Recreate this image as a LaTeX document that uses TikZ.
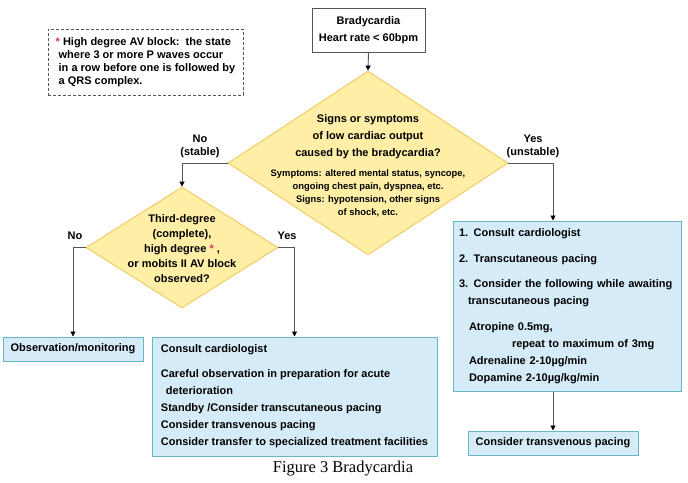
\documentclass[tikz,border=0pt]{standalone}
\usepackage{fontspec}
\setmainfont{Liberation Sans}
\newfontfamily\figfont{Liberation Serif}
\usetikzlibrary{shapes.geometric,arrows.meta}
\definecolor{qfill}{HTML}{FFEEA6}
\definecolor{qedge}{HTML}{F2C453}
\definecolor{afill}{HTML}{D5ECF8}
\definecolor{aedge}{HTML}{67B7C9}
\definecolor{star}{HTML}{D9306B}
\definecolor{wire}{HTML}{555555}
\begin{document}
\begin{tikzpicture}[x=1pt,y=-1pt,every node/.style={font=\fontsize{11}{17}\selectfont\bfseries},
  question/.style={diamond, draw=qedge, fill=qfill, line width=0.8pt, inner sep=0pt},
  action/.style={draw=aedge, fill=afill, line width=1pt, inner sep=0pt, align=left},
  flow/.style={draw=wire, line width=0.9pt, -{Triangle[length=5pt,width=5pt,color=black]}}]
\useasboundingbox (0,0) rectangle (688,482);
\node[draw=wire, dash pattern=on 3pt off 2pt, line width=0.8pt, minimum width=195pt, minimum height=66pt, align=left, font=\fontsize{11}{13}\selectfont\bfseries] (note) at (145.5,62) {\textcolor{star}{*} High degree AV block:\ \ the state\\\hspace*{3pt}where 3 or more P waves occur\\\hspace*{3pt}in a row before one is followed by\\\hspace*{3pt}a QRS complex.};
\node[draw=wire, fill=white, line width=0.8pt, minimum width=113pt, minimum height=44pt, align=center] (brady) at (368.5,30) {Bradycardia\\Heart rate < 60bpm};

\node[question, minimum width=280pt, minimum height=184pt] (signs) at (368,163) {};
\node[align=center] (signs-text) at (368,137) {Signs or symptoms\\of low cardiac output\\caused by the bradycardia?};
\node[align=center, font=\fontsize{9.4}{13}\selectfont\bfseries] (signs-note) at (368,193) {Symptoms: altered mental status, syncope,\\ongoing chest pain, dyspnea, etc.\\Signs: hypotension, other signs\\of shock, etc.};

\node[question, minimum width=192pt, minimum height=121pt] (third) at (182,247.5) {};
\node[align=center, font=\fontsize{11}{15}\selectfont\bfseries] (third-text) at (182,249) {Third-degree\\(complete),\\high degree \textcolor{star}{*} ,\\or mobits II AV block\\observed?};

\node[align=center, font=\fontsize{11}{13}\selectfont\bfseries] (stable) at (200,146) {No\\(stable)};
\node[align=center, font=\fontsize{11}{13}\selectfont\bfseries] (unstable-label) at (533,146) {Yes\\(unstable)};
\node (no) at (75,236) {No};
\node (yes) at (287,236) {Yes};

\node[action, minimum width=140pt, minimum height=24pt] (observe) at (73,349) {Observation/monitoring};
\node[action, minimum width=285pt, minimum height=119pt] (consult) at (294.5,396.5) {Consult cardiologist\\[8pt]Careful observation in preparation for acute\\\hspace*{5pt}deterioration\\Standby /Consider transcutaneous pacing\\Consider transvenous pacing\\Consider transfer to specialized treatment facilities};
\node[action, minimum width=228pt, minimum height=170pt, text width=216pt] (unstable) at (567,306) {1. Consult cardiologist\\[9pt]2. Transcutaneous pacing\\[8pt]3. Consider the following while awaiting\\\hspace*{9pt}transcutaneous pacing\\[9pt]\hspace*{10pt}Atropine 0.5mg,\\\hspace*{53pt}repeat to maximum of 3mg\\\hspace*{10pt}Adrenaline 2-10µg/min\\\hspace*{10pt}Dopamine 2-10µg/kg/min};
\node[action, minimum width=170pt, minimum height=24pt] (pacing) at (553,443) {Consider transvenous pacing};

\node[font=\fontsize{16.5}{19}\selectfont\figfont] (caption) at (343,469) {Figure 3 Bradycardia};

\draw[flow] (brady.south) -- (signs.north);
\draw[flow] (signs.west) -| (third.north);
\draw[flow] (signs.east) -| (pacing.north |- unstable.north);
\draw[flow] (third.west) -| (observe.north);
\draw[flow] (third.east) -| (consult.north);
\draw[flow] (unstable.south -| pacing.north) -- (pacing.north);
\end{tikzpicture}
\end{document}
